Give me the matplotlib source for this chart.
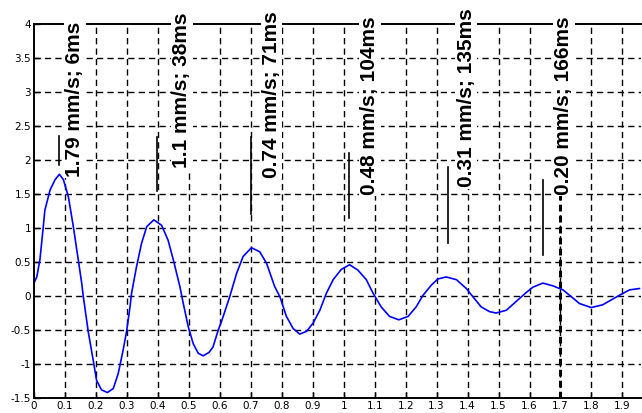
import numpy as np
import matplotlib
matplotlib.use("Agg")
import matplotlib.pyplot as plt

# ── Data ──────────────────────────────────────────────────────────────────────

curve_x = [0.0, 0.009, 0.019, 0.03, 0.035, 0.052, 0.068, 0.082, 0.095, 0.111,
           0.127, 0.143, 0.154, 0.159, 0.175, 0.191, 0.202, 0.218, 0.237, 0.256,
           0.272, 0.288, 0.299, 0.31, 0.315, 0.331, 0.347, 0.364, 0.387, 0.412,
           0.433, 0.45, 0.471, 0.482, 0.498, 0.514, 0.53, 0.546, 0.565, 0.578,
           0.595, 0.605, 0.632, 0.654, 0.675, 0.702, 0.729, 0.751, 0.777, 0.794,
           0.815, 0.837, 0.858, 0.88, 0.901, 0.923, 0.944, 0.966, 0.992, 1.019,
           1.046, 1.073, 1.095, 1.121, 1.148, 1.178, 1.208, 1.234, 1.256, 1.283,
           1.304, 1.331, 1.364, 1.396, 1.417, 1.444, 1.471, 1.492, 1.525, 1.557,
           1.589, 1.611, 1.643, 1.675, 1.708, 1.735, 1.761, 1.799, 1.836, 1.863,
           1.89, 1.923, 1.955]
curve_y = [0.19, 0.28, 0.53, 1.02, 1.26, 1.56, 1.71, 1.79, 1.71, 1.46,
           1.02, 0.53, 0.19, 0.0, -0.52, -0.94, -1.24, -1.38, -1.42, -1.36,
           -1.14, -0.79, -0.52, -0.16, 0.04, 0.43, 0.77, 1.02, 1.12, 1.04,
           0.82, 0.53, 0.14, -0.11, -0.45, -0.70, -0.84, -0.88, -0.83, -0.75,
           -0.50, -0.38, -0.01, 0.33, 0.58, 0.71, 0.65, 0.48, 0.14, -0.01,
           -0.30, -0.48, -0.56, -0.52, -0.40, -0.21, 0.04, 0.24, 0.39, 0.46,
           0.38, 0.24, 0.04, -0.16, -0.30, -0.35, -0.30, -0.16, 0.01, 0.16,
           0.25, 0.28, 0.24, 0.11, -0.01, -0.16, -0.23, -0.25, -0.21, -0.08,
           0.05, 0.13, 0.19, 0.15, 0.09, -0.01, -0.11, -0.17, -0.13, -0.06,
           0.01, 0.09, 0.11]

labels = ["1.79 mm/s; 6ms", "1.1 mm/s; 38ms", "0.74 mm/s; 71ms",
          "0.48 mm/s; 104ms", "0.31 mm/s; 135ms", "0.20 mm/s; 166ms"]
label_x = [0.132, 0.477, 0.767, 1.084, 1.396, 1.71]
label_y = [1.75, 1.88, 1.74, 1.49, 1.60, 1.49]

marker_x = [0.081, 0.397, 0.70, 1.016, 1.337, 1.643]
marker_y0 = [1.93, 1.54, 1.20, 1.15, 0.78, 0.60]
marker_y1 = [2.35, 2.34, 2.34, 2.10, 1.90, 1.71]

x_ticks = [round(0.1 * i, 1) for i in range(20)]
y_ticks = [-1.5, -1, -0.5, 0, 0.5, 1, 1.5, 2, 2.5, 3, 3.5, 4]


def _fmt(v):
    return f"{v:g}"


# ── Plot ──────────────────────────────────────────────────────────────────────

fig = plt.figure(figsize=(6.42, 4.13), dpi=100)
ax = fig.add_axes([34 / 642, 15 / 413, (641 - 34) / 642, 374 / 413])

ax.set_xlim(0, 1.96)
ax.set_ylim(-1.5, 4)

for xv in x_ticks[1:]:
    ax.axvline(xv, color='black', lw=1.0, dashes=(4.5, 3), zorder=1)
for yv in y_ticks[1:-1]:
    ax.axhline(yv, color='black', lw=1.0, dashes=(4.5, 3), zorder=1)
# the heavier dashed line at 1.7
ax.axvline(1.7, color='black', lw=2.2, dashes=(2.2, 1.4), zorder=1)

ax.plot(curve_x, curve_y, color='#0000ff', lw=1.2, zorder=3)

for xm, y0, y1 in zip(marker_x, marker_y0, marker_y1):
    ax.plot([xm, xm], [y0, y1], color='black', lw=1.2, zorder=3)

for txt, tx, ty in zip(labels, label_x, label_y):
    ax.text(tx, ty, txt, rotation=90, ha='center', va='bottom',
            fontsize=15, fontweight='bold', family='Liberation Sans',
            bbox=dict(facecolor='white', edgecolor='none', pad=1.0),
            zorder=6, clip_on=False)

ax.set_xticks(x_ticks)
ax.set_xticklabels([_fmt(v) for v in x_ticks])
ax.set_yticks(y_ticks)
ax.set_yticklabels([_fmt(v) for v in y_ticks])
ax.tick_params(direction='in', length=4, width=1, labelsize=7.5, pad=2,
               colors='black')

for side in ['left', 'bottom', 'top']:
    ax.spines[side].set_linewidth(1.4)
    ax.spines[side].set_zorder(5)
ax.spines['right'].set_visible(False)

fig.savefig('out.png', dpi=100)
